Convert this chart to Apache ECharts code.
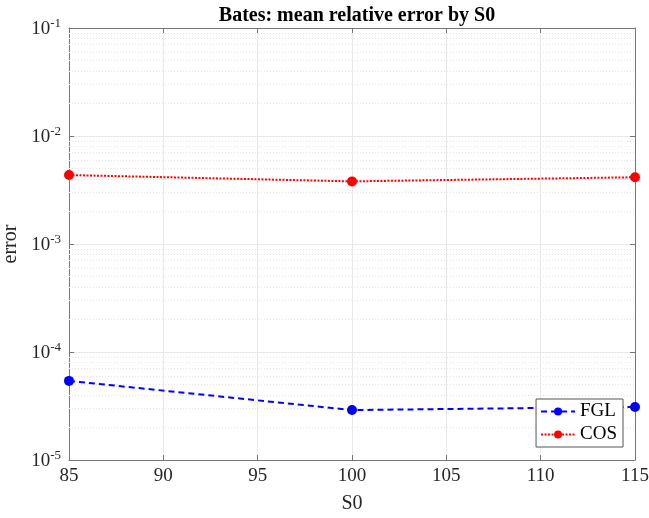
<!DOCTYPE html>
<html><head><meta charset="utf-8">
<script src="https://cdn.jsdelivr.net/npm/echarts@6/dist/echarts.min.js"></script>
<style>html,body{margin:0;padding:0;background:#fff}#c{width:649px;height:518px}</style>
</head><body><div id="c"></div>
<script>
var categories = [85, 100, 115];
var fglValues = [5.4e-5, 2.9e-5, 3.1e-5];
var cosValues = [4.35e-3, 3.8e-3, 4.15e-3];
var xTicks = [85, 90, 95, 100, 105, 110, 115];
var yTicks = [1e-5, 1e-4, 1e-3, 1e-2, 1e-1];

var minorVals = [];
for (var d = -5; d < -1; d++) {
  for (var m = 2; m <= 9; m++) minorVals.push(m * Math.pow(10, d));
}
var font = 'Liberation Serif';
var axisCol = '#767676';
var chart = echarts.init(document.getElementById('c'));
function pairs(v) { return categories.map(function (x, i) { return [x, v[i]]; }); }
chart.setOption({
  animation: false,
  title: {
    text: 'Bates: mean relative error by S0', left: 352, top: 1, textAlign: 'center',
    textStyle: { fontFamily: font, fontWeight: 'bold', fontSize: 20, color: '#000' }
  },
  grid: { left: 69, right: 14, top: 28, bottom: 58, containLabel: false, outerBoundsMode: 'none' },
  legend: {
    orient: 'vertical', right: 26, bottom: 71, padding: [3, 6, 3, 4], z: 20,
    backgroundColor: '#fff', borderColor: '#555', borderWidth: 1, borderRadius: 0,
    itemWidth: 34, itemHeight: 10, itemGap: 4,
    textStyle: { fontFamily: font, fontSize: 19, color: '#000' },
    data: ['FGL', 'COS']
  },
  xAxis: [{
    type: 'value', min: 85, max: 115, interval: 5,
    name: 'S0', nameLocation: 'middle', nameGap: 34,
    nameTextStyle: { fontFamily: font, fontSize: 20, color: '#262626' },
    axisLine: { show: true, lineStyle: { color: axisCol } },
    axisTick: { inside: true, length: 5, lineStyle: { color: axisCol } },
    axisLabel: { fontFamily: font, fontSize: 19, color: '#262626', margin: 7 },
    splitLine: { show: true, lineStyle: { color: '#e8e8e8' } }
  }, {
    type: 'value', position: 'top', min: 85, max: 115, interval: 5,
    axisLine: { show: true, lineStyle: { color: axisCol } },
    axisTick: { inside: true, length: 5, lineStyle: { color: axisCol } },
    axisLabel: { show: false }, splitLine: { show: false }
  }],
  yAxis: [{
    type: 'log', logBase: 10, min: 1e-5, max: 1e-1,
    name: 'error', nameLocation: 'middle', nameGap: 46, nameRotate: 90,
    nameTextStyle: { fontFamily: font, fontSize: 20, color: '#262626' },
    axisLine: { show: true, lineStyle: { color: axisCol } },
    axisTick: { inside: true, length: 5, lineStyle: { color: axisCol } },
    axisLabel: {
      margin: 8,
      formatter: function (v) { return '{b|10}{s|' + Math.round(Math.log10(v)) + '}'; },
      rich: {
        b: { fontFamily: font, fontSize: 19, color: '#262626', verticalAlign: 'bottom' },
        s: { fontFamily: font, fontSize: 13, color: '#262626', verticalAlign: 'top', padding: [0, 0, 9, 0] }
      }
    },
    splitLine: { show: true, lineStyle: { color: '#e8e8e8' } }
  }, {
    type: 'log', logBase: 10, min: 1e-5, max: 1e-1, position: 'right',
    axisLine: { show: true, lineStyle: { color: axisCol } },
    axisTick: { inside: true, length: 5, lineStyle: { color: axisCol } },
    axisLabel: { show: false }, splitLine: { show: false }
  }],
  series: [{
    name: 'minor', type: 'line', data: [], silent: true, z: 1,
    markLine: {
      silent: true, symbol: 'none', label: { show: false }, precision: 12, z: 1,
      lineStyle: { color: '#e4e4e4', type: [1, 2], width: 1 },
      data: minorVals.map(function (v) { return { yAxis: v }; })
    }
  }, {
    name: 'FGL', type: 'line', data: pairs(fglValues),
    symbol: 'circle', symbolSize: 10, z: 3,
    itemStyle: { color: '#0000ff' },
    lineStyle: { color: '#0000ff', width: 2, type: [6, 4] }
  }, {
    name: 'COS', type: 'line', data: pairs(cosValues),
    symbol: 'circle', symbolSize: 10, z: 3,
    itemStyle: { color: '#ff0000' },
    lineStyle: { color: '#ff0000', width: 2, type: [2, 1.5] }
  }]
});
</script></body></html>
